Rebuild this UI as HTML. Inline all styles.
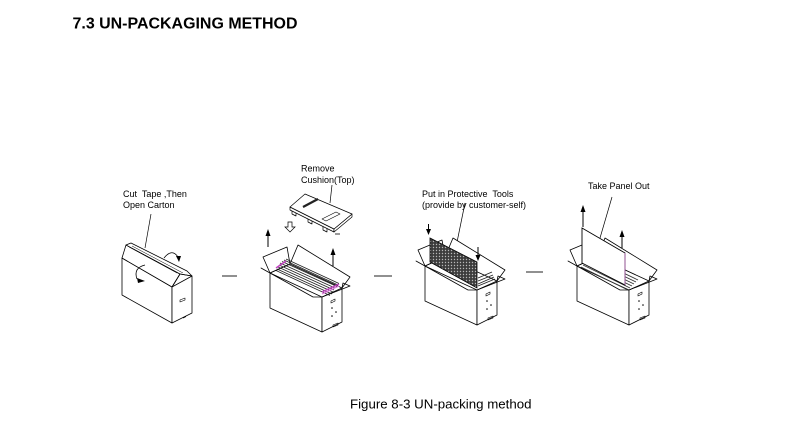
<!DOCTYPE html>
<html><head><meta charset="utf-8"><style>
html,body{margin:0;padding:0;background:#fff;}
svg{display:block;}
text{font-family:"Liberation Sans",Arial,sans-serif;fill:#000;}
</style></head><body>
<svg width="793" height="437" viewBox="0 0 793 437" xmlns="http://www.w3.org/2000/svg">
<defs>
<pattern id="mesh" width="3" height="3" patternUnits="userSpaceOnUse">
<rect width="3" height="3" fill="#3c3c3c"/>
<circle cx="1.5" cy="1.5" r="0.7" fill="#b8b8b8"/>
</pattern>
<g id="box" fill="none" stroke="#000" stroke-width="0.8" stroke-linejoin="round">
<path d="M270,273 L263,257 L287,247 L290,264 Z" fill="#fff"/>
<path d="M290,264 L298,245 L350,277 L342,288 Z" fill="#fff"/>
<path d="M270,273 L322,297 L322,332 L270,308 Z" fill="#fff"/>
<path d="M322,297 L342,288 L342,322 L322,332 Z" fill="#fff"/>
<path d="M270,273 L290,264"/>
<path d="M270,273 L261,268 L313,297 L322,297"/>
<path d="M322,297 L350,286 L343,283 L342,288"/>
<path d="M331,301 l4,-2 l0,2 l-4,2 Z" stroke-width="0.6"/>
<circle cx="332" cy="308" r="0.4" fill="#000"/>
<circle cx="336" cy="312" r="0.4" fill="#000"/>
<circle cx="332" cy="316" r="0.4" fill="#000"/>
<path d="M333,325 l5,-2 l0,2 l-5,2 Z" stroke-width="0.6"/>
</g>
</defs>

<text x="72.5" y="28.3" font-size="16" font-weight="bold" textLength="225" lengthAdjust="spacingAndGlyphs">7.3 UN-PACKAGING METHOD</text>

<!-- labels -->
<text x="123" y="197" font-size="9" xml:space="preserve">Cut  Tape ,Then</text>
<text x="123" y="208" font-size="9">Open Carton</text>
<text x="301" y="171.5" font-size="9">Remove</text>
<text x="301" y="183" font-size="9">Cushion(Top)</text>
<text x="422" y="197" font-size="9" xml:space="preserve">Put in Protective  Tools</text>
<text x="422" y="208" font-size="9">(provide by customer-self)</text>
<text x="588" y="189" font-size="9">Take Panel Out</text>

<!-- leader lines -->
<g stroke="#000" stroke-width="0.7" fill="none">
<path d="M151,214 L145,248"/>
<path d="M332,185 L330,203"/>
<path d="M465,203 L455,252"/>
<path d="M612,197 L600,238"/>
</g>

<!-- separators -->
<g stroke="#222" stroke-width="1">
<path d="M222,276 L237,276"/>
<path d="M374,276 L392,276"/>
<path d="M526,272 L543,272"/>
</g>

<!-- Box 1: closed carton -->
<g fill="#fff" stroke="#000" stroke-width="0.8" stroke-linejoin="round">
<path d="M122,258 L172,287 L172,323 L122,295 Z"/>
<path d="M172,287 L192,276 L192,313 L172,323 Z"/>
<path d="M122,258 L126,245 L180,274 L172,287 Z"/>
<path d="M126,245 L131,243 L187,271 L192,276 L180,274 Z"/>
<path d="M172,287 L180,274 L192,276" fill="none"/>
<path d="M129,247 L177,273" fill="none" stroke-width="0.5"/>
<path d="M132,246 L183,273" fill="none" stroke-width="0.5"/>
<path d="M180,300 l5,-2 l0,2 l-5,2 Z" stroke-width="0.6"/>
<path d="M183,318 l3,-1.5" fill="none"/>
</g>
<g fill="none" stroke="#000" stroke-width="0.8">
<path d="M145,265 Q133,268 137,279"/>
<path d="M164,258 Q172,248 178,257"/>
</g>
<path d="M137,278 L145,281 L138,283 Z" fill="#000"/>
<path d="M176,256 L181,256 L179,262 Z" fill="#000"/>

<!-- Box 2 -->
<use href="#box"/>
<g stroke="#222" stroke-width="0.8" fill="none">
<path d="M279,265 L334,290"/>
<path d="M278,267 L333,292"/>
<path d="M277,269 L332,294"/>
<path d="M280,263 L335,288"/>
<path d="M282,261.5 L337,286.5"/>
<path d="M284,260 L338,285"/>
<path d="M286,259 L339,283.5"/>
<path d="M276,270.5 L330,295.5"/>
</g>
<g stroke="#c040c0" stroke-width="1.4" fill="none">
<path d="M276,268 L286,261"/>
<path d="M322,292 L339,284"/>
</g>
<path d="M322,294 L339,286" stroke="#e070e0" stroke-width="1.2"/>

<!-- cushion -->
<g fill="#fff" stroke="#000" stroke-width="0.7" stroke-linejoin="round">
<path d="M292,209 l0,5 l4,2 l0,-5 Z"/>
<path d="M308,217 l0,5 l4,2 l0,-5 Z"/>
<path d="M323,225 l0,5 l4,2 l0,-5 Z"/>
<path d="M290,207 L334,229 L334,232 L290,210 Z"/>
<path d="M334,229 L352,214 L352,217 L334,232 Z"/>
<path d="M290,207 L305,194 L352,214 L334,229 Z"/>
<path d="M322,219 L336,212 L340,214 L326,221 Z" stroke-width="0.6"/>
</g>
<path d="M303,207 L318,199" stroke="#222" stroke-width="2.2"/>
<path d="M335,234 L340,234" stroke="#000" stroke-width="0.8"/>
<!-- hollow down arrow -->
<path d="M288,222 L292,222 L292,227 L295,227 L290,232 L285,227 L288,227 Z" fill="#fff" stroke="#000" stroke-width="0.7"/>
<!-- up arrows box2 -->
<g fill="#000" stroke="#000" stroke-width="1">
<path d="M268,235 L268,247" fill="none"/>
<path d="M265.5,236 L268,229 L270.5,236 Z" stroke="none"/>
<path d="M333,254 L333,266" fill="none"/>
<path d="M330.5,255 L333,248 L335.5,255 Z" stroke="none"/>
</g>

<!-- Box 3 -->
<use href="#box" transform="translate(155,-7)"/>
<g stroke="#222" stroke-width="0.9" fill="none">
<path d="M478,281 L493,275"/>
<path d="M478,284 L494,277"/>
<path d="M478,278 L492,272"/>
<path d="M478,286 L495,279"/>
</g>
<path d="M430,238 L477,262 L477,288 L430,262 Z" fill="url(#mesh)" stroke="#000" stroke-width="0.8"/>
<g fill="#000" stroke="#000" stroke-width="1">
<path d="M428.5,224 L428.5,229" fill="none"/>
<path d="M426,229 L428.5,235 L431,229 Z" stroke="none"/>
<path d="M478,247 L478,255" fill="none"/>
<path d="M475.5,255 L478,261 L480.5,255 Z" stroke="none"/>
</g>

<!-- Box 4 -->
<use href="#box" transform="translate(307,-7)"/>
<g stroke="#333" stroke-width="0.9" fill="none">
<path d="M583,265 L630,288"/>
<path d="M584,263 L632,286"/>
<path d="M586,261 L634,284"/>
<path d="M588,259 L636,282"/>
<path d="M590,257 L638,280"/>
<path d="M581,267 L628,290"/>
</g>
<path d="M582,228 L625,253 L625,285 L582,263 Z" fill="#fff" stroke="#000" stroke-width="0.9"/>
<path d="M625,253 L625,285" stroke="#b060b0" stroke-width="0.8"/>
<g fill="#000" stroke="#000" stroke-width="1">
<path d="M583,211 L583,227" fill="none"/>
<path d="M580.5,212 L583,205 L585.5,212 Z" stroke="none"/>
<path d="M622,236 L622,248" fill="none"/>
<path d="M619.5,237 L622,230 L624.5,237 Z" stroke="none"/>
</g>

<text x="350" y="408.5" font-size="12.8" textLength="181.5" lengthAdjust="spacingAndGlyphs">Figure 8-3 UN-packing method</text>
</svg>
</body></html>
